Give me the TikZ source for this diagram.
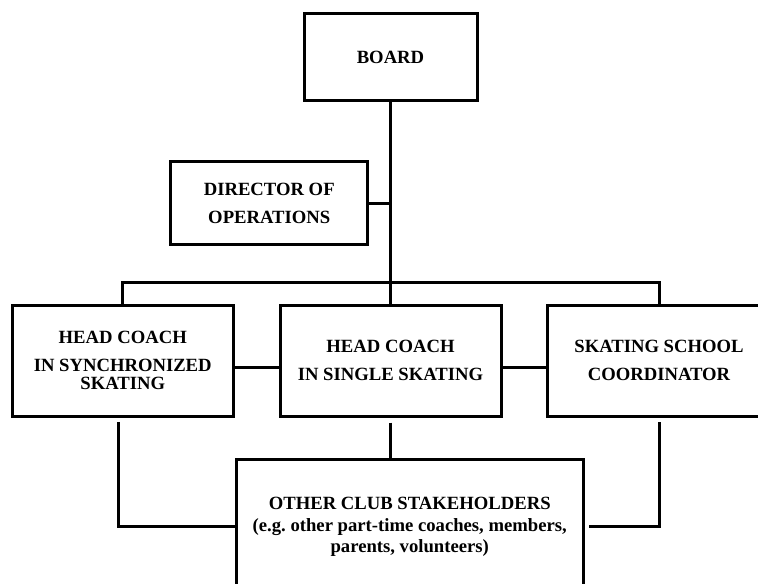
\documentclass[tikz,border=0pt]{standalone}
\usepackage{fontspec}
\setmainfont{Liberation Serif}
\frenchspacing
\begin{document}
\begin{tikzpicture}[x=0.75pt,y=-0.75pt,
  orgbox/.style={draw,rectangle,line width=2.25pt,inner sep=0pt,align=center,
    font=\fontsize{14}{21}\selectfont\bfseries},
  link/.style={line width=2.25pt}]
\useasboundingbox (0,0) rectangle (758,584);
\clip (0,0) rectangle (758,584);

% boxes
\node[orgbox,minimum width=129.75pt,minimum height=65.25pt] (board) at (390.5,57.5) {BOARD};
\node[orgbox,minimum width=147.4pt,minimum height=62.25pt] (director) at (269.25,203.5) {DIRECTOR OF\\OPERATIONS};
\node[orgbox,minimum width=166.1pt,minimum height=82.9pt] (sync) at (122.75,360.75)
  {HEAD COACH\\IN SYNCHRONIZED\\[-7.5pt]SKATING};
\node[orgbox,minimum width=165.75pt,minimum height=82.9pt] (single) at (390.5,360.75)
  {HEAD COACH\\IN SINGLE SKATING};
\node[orgbox,minimum width=168pt,minimum height=82.9pt] (school) at (659,360.75)
  {SKATING SCHOOL\\COORDINATOR};
\node[orgbox,minimum width=260.6pt,minimum height=100.5pt,
  font=\fontsize{14}{16.3}\selectfont\bfseries] (others) at (409.75,527)
  {OTHER CLUB STAKEHOLDERS\\(e.g. other part-time coaches, members,\\parents, volunteers)};

% helper points
\coordinate (trunk) at (390.5,282.5);
\coordinate (mid) at (0,368);
\coordinate (downL) at (118.3,422);
\coordinate (downM) at (390.7,422.7);
\coordinate (downR) at (659.3,421.7);
\coordinate (endR) at (589.3,526.5);

% reporting lines
\draw[link] (board.south) -- (single.north);
\draw[link] (director.east) -- (director.east -| board.south);
\draw[link] (sync.north) -- (sync.north |- trunk) -- (school.north |- trunk) -- (school.north);
\draw[link] (sync.east |- mid) -- (single.west |- mid);
\draw[link] (single.east |- mid) -- (school.west |- mid);
\draw[link] (downL) |- (others.west);
\draw[link] (downM) -- (downM |- others.north);
\draw[link] (endR) -| (downR);
\end{tikzpicture}
\end{document}
